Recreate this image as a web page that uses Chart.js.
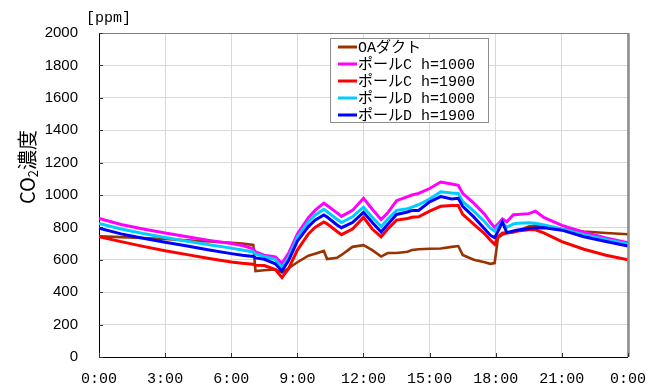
<!DOCTYPE html>
<html>
<head>
<meta charset="utf-8">
<script src="https://cdn.jsdelivr.net/npm/chart.js@4"></script>
<style>
  html, body { margin: 0; padding: 0; background: #fff; }
  #c { display: block; }
</style>
</head>
<body>
<canvas id="c" width="659" height="387"></canvas>
<script>
// Time of day (hours) for each sample
const times = [0,1,2,3,4,5,6,6.5,7,7.1,7.5,8,8.3,8.6,9,9.5,9.8,10.2,10.35,10.8,11,11.5,12,12.4,12.8,13.1,13.5,14,14.2,14.5,15,15.5,16,16.3,16.5,17,17.5,17.75,17.95,18.1,18.3,18.5,18.8,19,19.5,19.8,20.2,21,22,23,24];

// CO2 concentration [ppm] per measuring point
const oaDuct = [745,740,735,728,720,713,705,700,692,530,535,540,522,548,585,625,638,655,605,612,630,680,690,660,620,642,642,650,660,665,668,670,680,685,630,600,585,575,580,735,755,765,770,780,805,812,805,790,775,765,758];
const poleC1000 = [855,818,790,765,742,720,700,688,668,648,628,618,578,640,760,860,905,950,935,890,868,905,980,912,848,890,965,990,1000,1010,1040,1080,1068,1060,1010,950,880,832,800,820,852,835,878,880,885,900,860,812,770,735,705];
const poleC1900 = [742,712,683,656,632,608,586,578,572,566,565,540,490,545,660,760,800,833,822,775,755,790,862,790,742,790,845,855,862,865,900,930,935,935,880,820,760,722,695,742,765,765,772,778,785,785,765,712,665,628,600];
const poleD1000 = [825,790,762,738,715,693,672,660,648,636,620,602,552,615,740,835,875,912,897,850,830,865,925,862,805,850,905,915,925,940,975,1020,1012,1010,960,900,835,795,778,805,832,800,822,826,828,825,815,790,755,725,697];
const poleD1900 = [795,760,733,708,685,660,638,628,620,612,603,575,530,595,715,805,845,877,864,815,798,830,893,830,772,820,880,895,905,905,958,990,975,980,930,865,790,752,736,775,832,768,778,784,792,797,798,783,742,713,685];

// Series names and axis labels
const seriesNames = ['OAダクト','ポールC h=1000','ポールC h=1900','ポールD h=1000','ポールD h=1900'];
const seriesColors = ['#993300','#FF00FF','#FF0000','#00CCFF','#0000FF'];
const xTickLabels = ['0:00','3:00','6:00','9:00','12:00','15:00','18:00','21:00','0:00'];
const yTicks = [0,200,400,600,800,1000,1200,1400,1600,1800,2000];

const seriesValues = [oaDuct, poleC1000, poleC1900, poleD1000, poleD1900];
const toPoints = vals => vals.map((v, i) => ({ x: times[i], y: v }));

const datasets = seriesValues.map((vals, i) => ({
  label: seriesNames[i],
  data: toPoints(vals),
  borderColor: seriesColors[i],
  backgroundColor: seriesColors[i],
  borderWidth: i === 0 ? 2.6 : 3,
  pointRadius: 0,
  tension: 0,
  fill: false,
  order: seriesValues.length - i
}));

const monoFont = "'Liberation Mono', 'Noto Sans CJK JP', monospace";

// Frame, inner tick marks, axis title, unit and boxed legend
const decorations = {
  id: 'decorations',
  afterDatasetsDraw(chart) {
    const { ctx, chartArea: a, scales } = chart;
    ctx.save();
    // top and right frame
    ctx.strokeStyle = '#7f7f7f';
    ctx.lineWidth = 1;
    ctx.beginPath();
    ctx.moveTo(a.left, a.top + 0.5);
    ctx.lineTo(a.right, a.top + 0.5);
    ctx.stroke();
    ctx.strokeStyle = '#8c8c8c';
    ctx.lineWidth = 2.5;
    ctx.beginPath();
    ctx.moveTo(a.right + 0.5, a.top);
    ctx.lineTo(a.right + 0.5, a.bottom);
    ctx.stroke();
    // inner tick marks
    ctx.strokeStyle = '#333';
    ctx.lineWidth = 1;
    ctx.beginPath();
    yTicks.forEach(v => {
      const y = Math.round(scales.y.getPixelForValue(v)) + 0.5;
      ctx.moveTo(a.left, y);
      ctx.lineTo(a.left + 4, y);
    });
    for (let h = 0; h <= 24; h += 3) {
      const x = Math.round(scales.x.getPixelForValue(h)) + 0.5;
      ctx.moveTo(x, a.bottom);
      ctx.lineTo(x, a.bottom - 4);
    }
    ctx.stroke();

    // legend box
    const bx = 330.5, by = 38.5, bw = 158, bh = 84;
    ctx.fillStyle = '#fff';
    ctx.fillRect(bx, by, bw, bh);
    ctx.strokeStyle = '#8c8c8c';
    ctx.lineWidth = 1;
    ctx.strokeRect(bx, by, bw, bh);
    ctx.font = '15px ' + monoFont;
    ctx.textBaseline = 'middle';
    ctx.textAlign = 'left';
    seriesNames.forEach((name, i) => {
      const y = 47 + i * 17;
      ctx.strokeStyle = seriesColors[i];
      ctx.lineWidth = 3;
      ctx.beginPath();
      ctx.moveTo(338, y);
      ctx.lineTo(357, y);
      ctx.stroke();
      ctx.fillStyle = '#000';
      ctx.fillText(name, 358, y + 1);
    });
    ctx.restore();
  },
  afterDraw(chart) {
    const { ctx } = chart;
    ctx.save();
    // unit
    ctx.fillStyle = '#000';
    ctx.font = '15px ' + monoFont;
    ctx.textBaseline = 'middle';
    ctx.textAlign = 'left';
    ctx.fillText('[ppm]', 86, 18);
    // rotated axis title: CO2濃度 with subscript 2
    const big = "20px 'Noto Sans CJK JP', sans-serif";
    const small = "13px 'Noto Sans CJK JP', sans-serif";
    ctx.font = big;
    const wCO = ctx.measureText('CO').width;
    const wKanji = ctx.measureText('濃度').width;
    ctx.font = small;
    const w2 = ctx.measureText('2').width;
    const total = wCO + w2 + wKanji;
    ctx.translate(27, 167);
    ctx.rotate(-Math.PI / 2);
    ctx.textBaseline = 'middle';
    let x = -total / 2;
    ctx.font = big;
    ctx.fillText('CO', x, 0);
    x += wCO;
    ctx.font = small;
    ctx.fillText('2', x, 6);
    x += w2;
    ctx.font = big;
    ctx.fillText('濃度', x, 0);
    ctx.restore();
  }
};

new Chart(document.getElementById('c'), {
  type: 'line',
  data: { datasets },
  options: {
    responsive: false,
    animation: false,
    devicePixelRatio: 1,
    layout: { padding: { top: 33, right: 28, left: 0, bottom: 0 } },
    plugins: { legend: { display: false }, tooltip: { enabled: false } },
    scales: {
      x: {
        type: 'linear',
        min: 0,
        max: 24,
        afterFit(s) { s.height = 30; },
        afterBuildTicks(s) { s.ticks = xTickLabels.map((_, i) => ({ value: i * 3 })); },
        ticks: {
          autoSkip: false,
          maxRotation: 0,
          padding: 13,
          color: '#000',
          font: { family: monoFont, size: 15 },
          callback: (v, i) => xTickLabels[i]
        },
        grid: { color: '#d9d9d9', lineWidth: 1, drawTicks: false },
        border: { color: '#000', width: 1 }
      },
      y: {
        type: 'linear',
        min: 0,
        max: 2000,
        afterFit(s) { s.width = 99; },
        afterBuildTicks(s) { s.ticks = yTicks.map(v => ({ value: v })); },
        ticks: {
          padding: 21,
          color: '#000',
          font: { family: "'Liberation Sans', Arial, sans-serif", size: 15 },
          callback: v => String(v)
        },
        grid: { color: '#d9d9d9', lineWidth: 1, drawTicks: false },
        border: { color: '#000', width: 1 }
      }
    }
  },
  plugins: [decorations]
});
</script>
</body>
</html>
